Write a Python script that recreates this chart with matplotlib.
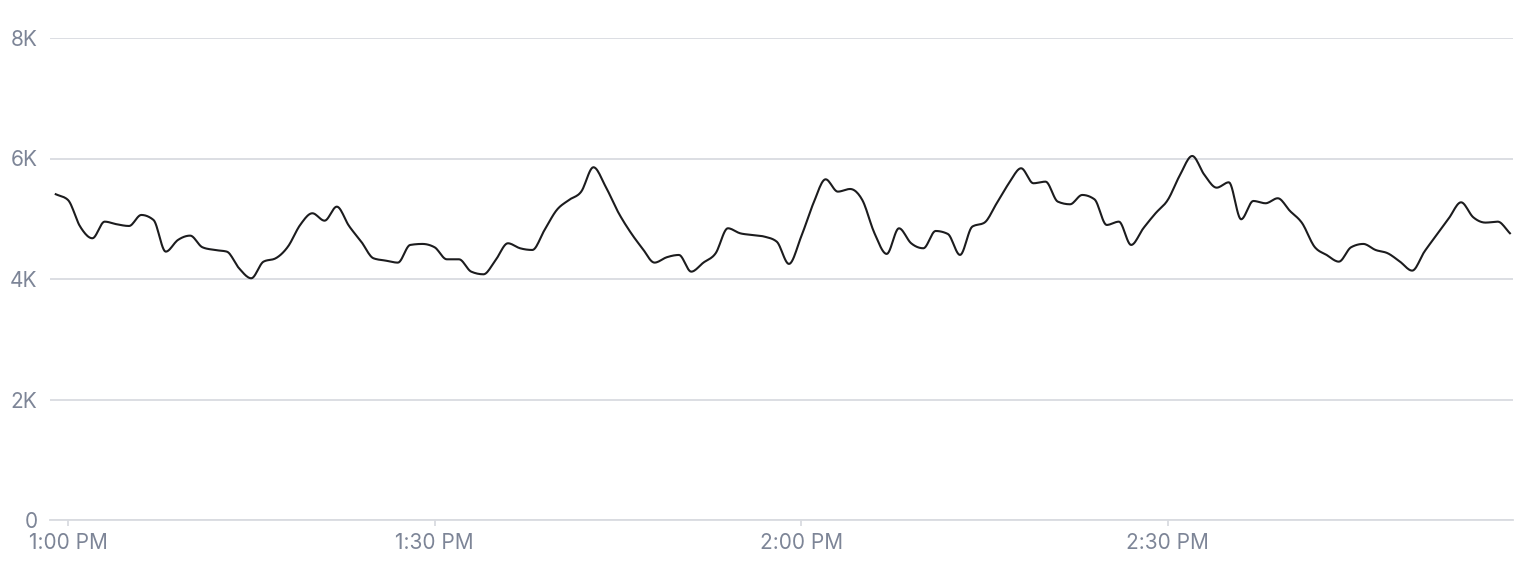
import numpy as np
import matplotlib
matplotlib.use("Agg")
import matplotlib.pyplot as plt

# minutes after 1:00 PM, one sample per minute
minutes = list(range(-1, 119))
values = [
    5407, 5312, 4869, 4676, 4952, 4908, 4880, 5063, 4980, 4454,
    4648, 4720, 4527, 4482, 4454, 4178, 4012, 4288, 4344, 4537,
    4897, 5091, 4968, 5201, 4880, 4620, 4344, 4305, 4272, 4565,
    4582, 4527, 4327, 4327, 4122, 4078, 4316, 4593, 4510, 4482,
    4814, 5146, 5312, 5450, 5855, 5533, 5118, 4786, 4510, 4272,
    4361, 4399, 4122, 4272, 4427, 4842, 4759, 4731, 4703, 4620,
    4250, 4703, 5257, 5655, 5450, 5494, 5312, 4759, 4416, 4842,
    4593, 4510, 4797, 4748, 4399, 4869, 4936, 5257, 5589, 5838,
    5589, 5616, 5284, 5240, 5395, 5323, 4897, 4952, 4565, 4842,
    5091, 5312, 5727, 6042, 5727, 5516, 5605, 4991, 5295, 5257,
    5340, 5129, 4925, 4537, 4399, 4288, 4527, 4582, 4482, 4427,
    4288, 4139, 4454, 4731, 5008, 5273, 5024, 4936, 4952, 4759,
]
x_ticks = [0, 30, 60, 90]
x_labels = ["1:00 PM", "1:30 PM", "2:00 PM", "2:30 PM"]
y_ticks = [0, 2000, 4000, 6000, 8000]
y_labels = ["0", "2K", "4K", "6K", "8K"]

TEXT = "#7d8597"
GRID = "#d9dbe0"


def monotone_curve(x, y, n=12):
    """Monotone cubic (Steffen-style) curve through the points, for drawing."""
    x = np.asarray(x, float)
    y = np.asarray(y, float)
    h = np.diff(x)
    s = np.diff(y) / h
    m = np.zeros_like(y)
    for i in range(1, len(y) - 1):
        p = (s[i - 1] * h[i] + s[i] * h[i - 1]) / (h[i - 1] + h[i])
        m[i] = (np.sign(s[i - 1]) + np.sign(s[i])) * min(abs(s[i - 1]), abs(s[i]), 0.5 * abs(p))
    m[0] = s[0]
    m[-1] = s[-1]
    xs, ys = [], []
    for i in range(len(h)):
        t = np.linspace(0, 1, n, endpoint=False)
        h00 = 2 * t**3 - 3 * t**2 + 1
        h10 = t**3 - 2 * t**2 + t
        h01 = -2 * t**3 + 3 * t**2
        h11 = t**3 - t**2
        xs.append(x[i] + t * h[i])
        ys.append(h00 * y[i] + h10 * h[i] * m[i] + h01 * y[i + 1] + h11 * h[i] * m[i + 1])
    xs.append([x[-1]])
    ys.append([y[-1]])
    return np.concatenate(xs), np.concatenate(ys)


plt.rcParams["font.family"] = ["Inter", "DejaVu Sans"]

fig = plt.figure(figsize=(15.22, 5.76), dpi=100)
ax = fig.add_axes([50 / 1522, 1 - 520 / 576, 1463 / 1522, 482 / 576])

cx, cy = monotone_curve(minutes, values)
ax.plot(cx, cy, color="#1c1c1e", linewidth=1.5, solid_joinstyle="round")

ax.set_xlim(-1.47, 118.25)
ax.set_ylim(0, 8000)

ax.set_yticks(y_ticks)
ax.set_yticklabels(y_labels)
ax.set_xticks(x_ticks)
ax.set_xticklabels(x_labels)

ax.grid(True, axis="y", color=GRID, linewidth=1.3)
ax.set_axisbelow(True)
for side in ["top", "right", "left"]:
    ax.spines[side].set_visible(False)
ax.spines["bottom"].set_color(GRID)
ax.spines["bottom"].set_linewidth(1.3)

ax.tick_params(axis="y", length=0, pad=9, labelsize=15, labelcolor=TEXT)
ax.tick_params(axis="x", length=4.5, width=1.3, color=GRID, pad=5,
               labelsize=15, labelcolor=TEXT)

fig.savefig("out.png", dpi=100)
